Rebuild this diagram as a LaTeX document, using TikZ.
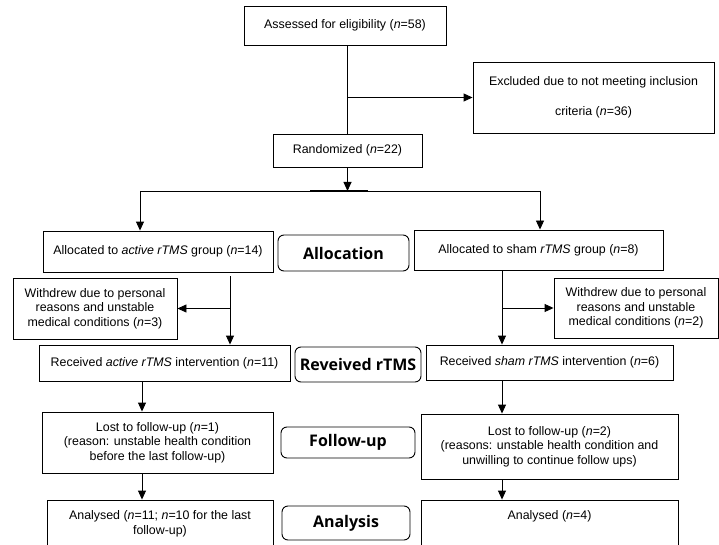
\documentclass[tikz,border=0pt]{standalone}
\usepackage{fontspec}
\setmainfont{Liberation Sans}
\newfontfamily\labfont{Open Sans}
\usetikzlibrary{arrows.meta}
\tikzset{
  box/.style={draw=black, line width=0.9pt, inner sep=2pt, align=center,
    font=\fontsize{12.4}{14.5}\selectfont},
  stage/.style={draw=black, line width=0.9pt, rounded corners=6pt, inner sep=2pt,
    font=\labfont\bfseries\fontsize{16}{18}\selectfont},
  conn/.style={line width=0.9pt, draw=black},
  arr/.style={conn, -{Triangle[length=9pt,width=8pt]}},
}
\begin{document}
\begin{tikzpicture}[x=1pt, y=-1pt]
\useasboundingbox (0,0) rectangle (719,545);
% boxes
\node[box, minimum width=202pt, minimum height=39pt] (assess) at (345,25.5) {Assessed for eligibility (\textit{n}=58)};
\node[box, minimum width=241pt, minimum height=71pt, font=\fontsize{12.4}{30}\selectfont] (excl) at (593.5,97.5) {Excluded due to not meeting inclusion\\criteria (\textit{n}=36)};
\node[box, minimum width=149pt, minimum height=33pt] (rand) at (347.5,150.5) {Randomized (\textit{n}=22)};
\node[box, minimum width=230pt, minimum height=41pt] (allocL) at (158,251.5) {Allocated to \textit{active rTMS} group (\textit{n}=14)};
\node[box, minimum width=249pt, minimum height=40pt] (allocR) at (538.5,250) {Allocated to sham \textit{rTMS} group (\textit{n}=8)};
\node[stage, minimum width=131pt, minimum height=36pt] (allocLab) at (343.5,253) {Allocation};
\node[box, minimum width=164pt, minimum height=61pt] (wdL) at (95,308.5) {Withdrew due to personal\\reasons and unstable\\medical conditions (\textit{n}=3)};
\node[box, minimum width=164pt, minimum height=60pt] (wdR) at (636,308) {Withdrew due to personal\\reasons and unstable\\medical conditions (\textit{n}=2)};
\node[box, minimum width=251pt, minimum height=36pt] (recL) at (164.5,363) {Received \textit{active rTMS} intervention (\textit{n}=11)};
\node[box, minimum width=247pt, minimum height=35pt] (recR) at (549.5,362.5) {Received \textit{sham rTMS} intervention (\textit{n}=6)};
\node[stage, minimum width=126pt, minimum height=35pt] (revLab) at (358,364.5) {Reveived rTMS};
\node[box, minimum width=231pt, minimum height=61pt] (lostL) at (157.5,442.5) {Lost to follow-up (\textit{n}=1)\\(reason: unstable health condition\\before the last follow-up)};
\node[box, minimum width=257pt, minimum height=65pt] (lostR) at (549.5,446.5) {Lost to follow-up (\textit{n}=2)\\(reasons: unstable health condition and\\unwilling to continue follow ups)};
\node[stage, minimum width=134pt, minimum height=31pt] (follow) at (348,442.5) {Follow-up};
\node[box, minimum width=226pt, minimum height=48pt] (anaL) at (160,524) {Analysed (\textit{n}=11; \textit{n}=10 for the last\\follow-up)};
\node[box, minimum width=257pt, minimum height=48pt, text depth=17pt] (anaR) at (549.5,524) {Analysed (\textit{n}=4)};
\node[stage, minimum width=128pt, minimum height=34pt] (analysis) at (346,523) {Analysis};
% helper coordinates
\coordinate (hl) at (140,191);
\coordinate (hr) at (540,191);
\coordinate (vl) at (230,276);
\coordinate (vr) at (502,270);
\coordinate (cl) at (142,0);
% connectors
\draw[conn] (rand.north |- assess.south) -- (rand.north);
\draw[arr] (rand.north |- excl.west) -- (excl.west);
\draw[arr] (rand.south) -- (rand.south |- hl);
\draw[conn] (hl) -- (hr);
\draw[line width=1.8pt] (310,191) -- (368,191);
\draw[arr] (hl) -- (hl |- allocL.north);
\draw[arr] (hr) -- (hr |- allocR.north);
\draw[arr] (vl) -- (vl |- recL.north);
\draw[arr] (vl |- wdL.east) -- (wdL.east);
\draw[arr] (vr) -- (vr |- recR.north);
\draw[arr] (vr |- wdR.west) -- (wdR.west);
\draw[arr] (recL.south -| cl) -- (lostL.north -| cl);
\draw[arr] (lostL.south -| cl) -- (anaL.north -| cl);
\draw[arr] (recR.south -| vr) -- (lostR.north -| vr);
\draw[arr] (lostR.south -| vr) -- (anaR.north -| vr);
\end{tikzpicture}
\end{document}
